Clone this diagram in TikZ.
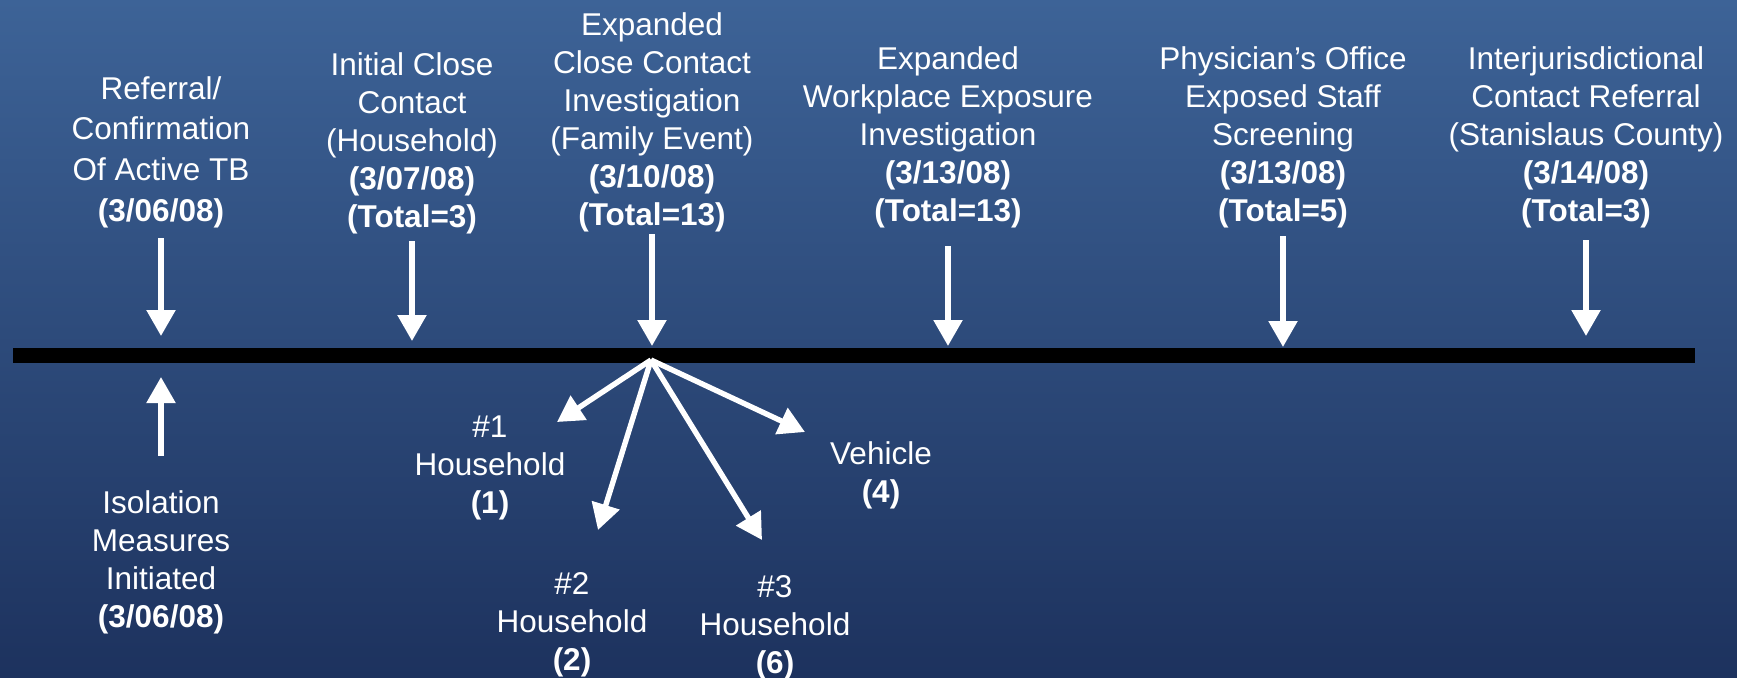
\documentclass[tikz,border=0pt]{standalone}
\usepackage{fontspec}
\setmainfont{Liberation Sans}
\usetikzlibrary{arrows.meta}

\definecolor{bgtop}{RGB}{61,99,151}
\definecolor{bgmid}{RGB}{42,72,122}
\definecolor{bgbot}{RGB}{29,50,94}

\begin{document}
\begin{tikzpicture}[x=0.5pt,y=-0.5pt,
  evtext/.style={text=white,align=center,inner sep=0pt,font=\fontsize{15.75pt}{19pt}\selectfont},
  pointer/.style={white,line width=2.7pt,-{Triangle[length=13pt,width=14pt]}}]

% background
\shade[top color=bgtop,middle color=bgmid,bottom color=bgbot] (0,0) rectangle (1737,677);
\useasboundingbox (0,0) rectangle (1737,677);

% timeline
\coordinate (tlstart) at (13,355);
\coordinate (tlend) at (1695,355);
\draw[line width=7.5pt] (tlstart) -- (tlend);

% events above the line
\node[evtext,anchor=south,font=\fontsize{15.75pt}{20.3pt}\selectfont] (referral) at (161,228) {Referral/\\Confirmation\\Of Active TB\\\textbf{(3/06/08)}};
\node[evtext,anchor=south] (initial) at (412,234) {Initial Close\\Contact\\(Household)\\\textbf{(3/07/08)}\\\textbf{(Total=3)}};
\node[evtext,anchor=south] (family) at (652,232) {Expanded\\Close Contact\\Investigation\\(Family Event)\\\textbf{(3/10/08)}\\\textbf{(Total=13)}};
\node[evtext,anchor=south] (workplace) at (948,228) {Expanded\\Workplace Exposure\\Investigation\\\textbf{(3/13/08)}\\\textbf{(Total=13)}};
\node[evtext,anchor=south] (physician) at (1283,228) {Physician’s Office\\Exposed Staff\\Screening\\\textbf{(3/13/08)}\\\textbf{(Total=5)}};
\node[evtext,anchor=south] (interjur) at (1586,228) {Interjurisdictional\\Contact Referral\\(Stanislaus County)\\\textbf{(3/14/08)}\\\textbf{(Total=3)}};

\coordinate (d1) at (161,336);
\coordinate (d2) at (412,341);
\coordinate (d3) at (652,346);
\coordinate (d4) at (948,346);
\coordinate (d5) at (1283,347);
\coordinate (d6) at (1586,336);

\draw[pointer,shorten <=5pt] (referral) -- (d1);
\draw[pointer,shorten <=3.5pt] (initial) -- (d2);
\draw[pointer,shorten <=1pt] (family) -- (d3);
\draw[pointer,shorten <=9pt] (workplace) -- (d4);
\draw[pointer,shorten <=4pt] (physician) -- (d5);
\draw[pointer,shorten <=6pt] (interjur) -- (d6);

% isolation below the line
\node[evtext,anchor=north] (isolation) at (161,490) {Isolation\\Measures\\Initiated\\\textbf{(3/06/08)}};
\coordinate (u1) at (161,377);
\draw[pointer,shorten <=17pt] (isolation) -- (u1);

% family event split
\node[evtext,anchor=south] (house1) at (490,520) {\#1\\Household\\\textbf{(1)}};
\node[evtext,anchor=south] (house2) at (572,677) {\#2\\Household\\\textbf{(2)}};
\node[evtext,anchor=south] (house3) at (775,680) {\#3\\Household\\\textbf{(6)}};
\node[evtext,anchor=south] (vehicle) at (881,509) {Vehicle\\\textbf{(4)}};

\coordinate (hub) at (651,360);
\coordinate (f1) at (557,422);
\coordinate (f2) at (598,530);
\coordinate (f3) at (762,540);
\coordinate (f4) at (805,432);
\draw[pointer] (hub) -- (f1);
\draw[pointer] (hub) -- (f2);
\draw[pointer] (hub) -- (f3);
\draw[pointer] (hub) -- (f4);
\end{tikzpicture}
\end{document}
